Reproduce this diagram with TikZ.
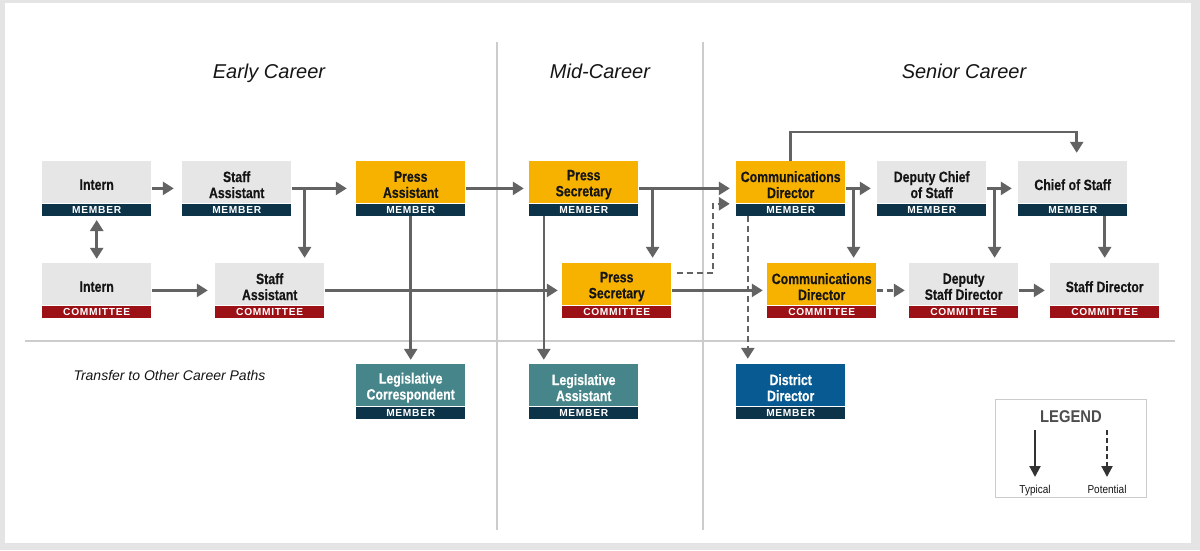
\documentclass[tikz,border=0pt]{standalone}
\usepackage{fontspec}
\setmainfont{Liberation Sans}
\newfontfamily\cardfont[FakeStretch=0.82, BoldFeatures={FakeBold=0.3}]{Liberation Sans}
\newfontfamily\bandfont[LetterSpace=7]{Liberation Sans}
\newfontfamily\legfont[FakeStretch=0.87]{Liberation Sans}
\usetikzlibrary{arrows.meta,calc,fit}
\definecolor{bggray}{HTML}{E4E4E4}
\definecolor{cardgray}{HTML}{E6E6E6}
\definecolor{navy}{HTML}{0D3349}
\definecolor{comred}{HTML}{9B1116}
\definecolor{gold}{HTML}{F7B200}
\definecolor{teal}{HTML}{46868A}
\definecolor{distblue}{HTML}{075A92}
\definecolor{arrowgray}{HTML}{636363}
\definecolor{divgray}{HTML}{CCCCCC}
\definecolor{inkdark}{HTML}{151515}
\definecolor{legdark}{HTML}{4D4D4D}
\definecolor{legarrow}{HTML}{333333}
\tikzset{
  cardtitle/.style={anchor=north west, minimum width=109pt, minimum height=42pt, inner sep=0pt},
  cardtext/.style={inner sep=0pt, align=center, font=\cardfont\bfseries\fontsize{15}{16}\selectfont},
  cardband/.style={anchor=north west, minimum width=109pt, minimum height=12pt,
    inner sep=0pt, text=white, font=\bandfont\bfseries\fontsize{10.2}{10}\selectfont},
  arr/.style={draw=arrowgray, line width=2.6pt, -{Triangle[length=11pt,width=13pt]}},
  dasharr/.style={arr, dash pattern=on 6pt off 4pt},
  arrboth/.style={draw=arrowgray, line width=2.6pt,
    {Triangle[length=11pt,width=13pt]}-{Triangle[length=11pt,width=13pt]}},
  divider/.style={draw=divgray, line width=1.3pt},
  heading/.style={anchor=base, text=inkdark, font=\itshape\fontsize{20}{24}\selectfont},
  legarr/.style={draw=legarrow, line width=2.2pt, -{Triangle[length=11pt,width=11pt]}},
  leglabel/.style={anchor=base, text=inkdark, font=\legfont\fontsize{11.5}{12}\selectfont}
}
% #1 name, #2 left x, #3 top y, #4 fill, #5 text colour, #6 title, #7 band colour, #8 band text
\newcommand\careercard[8]{%
  \node[cardtitle, fill=#4] (#1-t) at (#2,#3) {};
  \node[cardtext, text=#5] (#1-l) at ($(#1-t.center)+(0,2.5)$) {#6};
  \node[cardband, fill=#7] (#1-b) at (#1-t.south west) {#8};
  \node[fit=(#1-t)(#1-b), inner sep=0pt] (#1) {};
}
\begin{document}
\begin{tikzpicture}[x=1pt, y=-1pt]
\useasboundingbox (0,0) rectangle (1200,550);
\fill[bggray] (0,0) rectangle (1200,550);
\fill[white] (5,3) rectangle (1191,543);

% dividers
\coordinate (v1t) at (497,42); \coordinate (v1b) at (497,530);
\coordinate (v2t) at (703,42); \coordinate (v2b) at (703,530);
\coordinate (hl) at (25,341); \coordinate (hr) at (1175,341);
\draw[divider] (v1t) -- (v1b);
\draw[divider] (v2t) -- (v2b);
\draw[divider] (hl) -- (hr);

% headings
\node[heading] (early) at (269,78) {Early Career};
\node[heading] (mid) at (600,78) {Mid-Career};
\node[heading] (senior) at (964,78) {Senior Career};
\node[anchor=base west, text=inkdark, font=\itshape\fontsize{14}{16}\selectfont] (transfer) at (70,380) {Transfer to Other Career Paths};

% cards
\careercard{IM}{42}{161}{cardgray}{inkdark}{Intern}{navy}{MEMBER}
\careercard{SAM}{182}{161}{cardgray}{inkdark}{Staff\\Assistant}{navy}{MEMBER}
\careercard{PAM}{356}{161}{gold}{inkdark}{Press\\Assistant}{navy}{MEMBER}
\careercard{PSM}{529}{161}{gold}{inkdark}{Press\\Secretary}{navy}{MEMBER}
\careercard{CDM}{736}{161}{gold}{inkdark}{Communications\\Director}{navy}{MEMBER}
\careercard{DCM}{877}{161}{cardgray}{inkdark}{Deputy Chief\\of Staff}{navy}{MEMBER}
\careercard{COS}{1018}{161}{cardgray}{inkdark}{Chief of Staff}{navy}{MEMBER}

\careercard{IC}{42}{263}{cardgray}{inkdark}{Intern}{comred}{COMMITTEE}
\careercard{SAC}{215}{263}{cardgray}{inkdark}{Staff\\Assistant}{comred}{COMMITTEE}
\careercard{PSC}{562}{263}{gold}{inkdark}{Press\\Secretary}{comred}{COMMITTEE}
\careercard{CDC}{767}{263}{gold}{inkdark}{Communications\\Director}{comred}{COMMITTEE}
\careercard{DSC}{909}{263}{cardgray}{inkdark}{Deputy\\Staff Director}{comred}{COMMITTEE}
\careercard{SDC}{1050}{263}{cardgray}{inkdark}{Staff Director}{comred}{COMMITTEE}

\careercard{LC}{356}{364}{teal}{white}{Legislative\\Correspondent}{navy}{MEMBER}
\careercard{LA}{529}{364}{teal}{white}{Legislative\\Assistant}{navy}{MEMBER}
\careercard{DD}{736}{364}{distblue}{white}{District\\Director}{navy}{MEMBER}

% connectors
\draw[arr, shorten >=8pt] (IM) -- (SAM);
\draw[arrboth, shorten <=4pt, shorten >=4pt] (IM) -- (IC);
\draw[arr, shorten >=9pt] (SAM) -- (PAM);
\coordinate (b1) at ($(SAM.east)+(13,0)$);
\draw[arr, shorten >=5pt] (b1) -- (b1 |- SAC.north);
\draw[arr, shorten >=7pt] (IC) -- (SAC);
\draw[arr, shorten >=4pt] (SAC) -- (PSC);
\draw[arr, shorten >=5pt] (PAM) -- (PSM);
\draw[arr, shorten >=4pt] (PAM) -- (LC);
\coordinate (b2) at ($(PSM.south west)+(15,0)$);
\draw[arr, shorten >=4pt] (b2) -- (b2 |- LA.north);
\draw[arr, shorten >=6pt] (PSM) -- (CDM);
\coordinate (b3) at ($(PSM.east)+(14,0)$);
\draw[arr, shorten >=5pt] (b3) -- (b3 |- PSC.north);
\coordinate (d1) at ($(PSC.north east)+(5,10)$);
\coordinate (d3) at ($(CDM.north west)+(0,43)$);
\draw[dasharr, shorten >=6pt] (d1) -| ($(d3)+(-23,0)$) -- (d3);
\draw[arr, shorten >=4pt] (PSC) -- (CDC);
\coordinate (b4) at ($(CDM.south west)+(12,0)$);
\draw[dasharr, shorten >=5pt] (b4) -- (b4 |- DD.north);
\draw[arr, shorten >=8pt] (CDM.north) -- ++(0,-29) -| ($(COS.north)+(4,0)$);
\draw[arr, shorten >=6pt] (CDM) -- (DCM);
\coordinate (b5) at ($(CDM.east)+(8,0)$);
\draw[arr, shorten >=5pt] (b5) -- (b5 |- CDC.north);
\draw[arr, shorten >=6pt] (DCM) -- (COS);
\coordinate (b6) at ($(DCM.east)+(8,0)$);
\draw[arr, shorten >=5pt] (b6) -- (b6 |- DSC.north);
\draw[arr, shorten >=5pt] (SDC.north |- COS.south) -- (SDC.north);
\draw[dasharr, shorten >=4pt] (CDC) -- (DSC);
\draw[arr, shorten >=5pt] (DSC) -- (SDC);

% legend
\node[draw=divgray, line width=1pt, minimum width=151pt, minimum height=98pt,
  anchor=north west, inner sep=0pt] (leg) at (995,399) {};
\node[anchor=base, text=legdark, font=\legfont\bfseries\fontsize{17}{18}\selectfont] (legt) at (1071,422) {LEGEND};
\coordinate (l1s) at (1035,430); \coordinate (l1e) at (1035,477);
\coordinate (l2s) at (1107,430); \coordinate (l2e) at (1107,477);
\draw[legarr] (l1s) -- (l1e);
\draw[legarr, dash pattern=on 5pt off 3pt] (l2s) -- (l2e);
\node[leglabel] (typ) at (1035,493) {Typical};
\node[leglabel] (pot) at (1107,493) {Potential};
\end{tikzpicture}
\end{document}
